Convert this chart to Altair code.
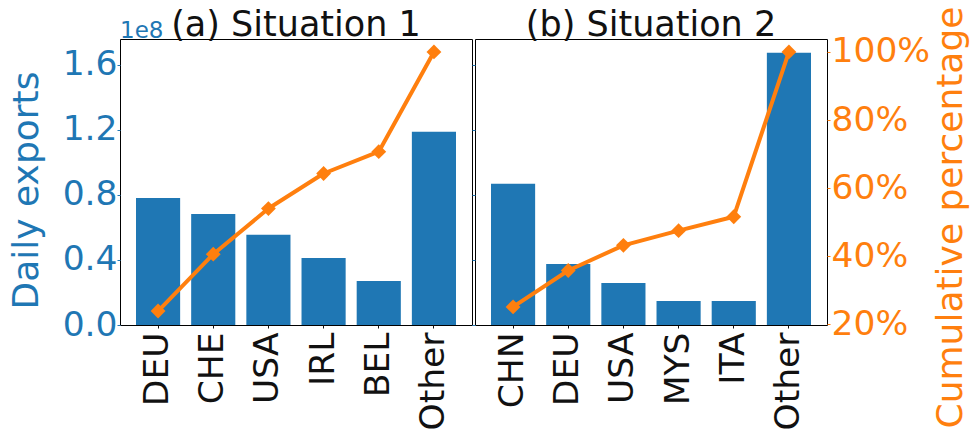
import altair as alt
import pandas as pd

BLUE = "#1f77b4"
ORANGE = "#ff7f0e"
INK = "#111111"
FONT = "DejaVu Sans"

# Situation 1
countries_a = ["DEU", "CHE", "USA", "IRL", "BEL", "Other"]
exports_a = [0.78e8, 0.683e8, 0.554e8, 0.412e8, 0.271e8, 1.188e8]
cumpct_a = [23.9, 40.6, 54.0, 64.3, 70.7, 100.0]

# Situation 2
countries_b = ["CHN", "DEU", "USA", "MYS", "ITA", "Other"]
exports_b = [0.868e8, 0.375e8, 0.258e8, 0.148e8, 0.148e8, 1.674e8]
cumpct_b = [25.1, 35.8, 43.2, 47.5, 51.6, 100.0]

export_ticks = [0, 0.4e8, 0.8e8, 1.2e8, 1.6e8]
pct_ticks = [20, 40, 60, 80, 100]
EXPORT_DOMAIN = [0, 1.758e8]
PCT_DOMAIN = [19.8, 103.8]

W, H = 352, 286


def label_layer(text, x, y, size, color, align):
    """A single free-standing text label placed in the panel's pixel space."""
    return alt.Chart(pd.DataFrame({"t": [text]})).mark_text(
        align=align, baseline="alphabetic", fontSize=size, font=FONT, color=color
    ).encode(text="t:N", x=alt.value(x), y=alt.value(y))


def panel(countries, exports, cumpct, title, first):
    df = pd.DataFrame({"country": countries, "exports": exports, "cumpct": cumpct})

    x = alt.X(
        "country:N", sort=countries, title=None,
        scale=alt.Scale(paddingInner=0.2, paddingOuter=0.29),
        axis=alt.Axis(labelAngle=-90, labelFontSize=34.5, labelColor=INK,
                      labelFont=FONT, tickSize=3, tickColor=INK,
                      labelPadding=4, domain=False),
    )

    if first:
        left_axis = alt.Axis(
            values=export_ticks, labelExpr="format(datum.value / 1e8, '.1f')",
            labelFontSize=34.5, labelColor=BLUE, labelFont=FONT,
            tickColor=BLUE, tickSize=3, labelPadding=0, domain=False, grid=False,
            title="Daily exports", titleColor=BLUE, titleFontSize=36,
            titleFont=FONT, titleFontWeight="normal", titleAngle=270,
            titleAlign="center", titleBaseline="alphabetic",
            titleX=-83, titleY=151,
        )
        right_axis = None
    else:
        left_axis = alt.Axis(
            values=export_ticks, labels=False, title=None,
            tickColor=BLUE, tickSize=3, domain=False, grid=False,
        )
        right_axis = alt.Axis(
            orient="right", values=pct_ticks, labelExpr="datum.value + '%'",
            labelFontSize=34.5, labelColor=ORANGE, labelFont=FONT,
            tickColor=ORANGE, tickSize=3, labelPadding=1, domain=False, grid=False,
            title="Cumulative percentage", titleColor=ORANGE, titleFontSize=36,
            titleFont=FONT, titleFontWeight="normal", titleAngle=270,
            titleAlign="center", titleBaseline="alphabetic",
            titleX=134, titleY=178,
        )

    base = alt.Chart(df)
    bars = base.mark_bar(color=BLUE).encode(
        x=x,
        y=alt.Y("exports:Q", scale=alt.Scale(domain=EXPORT_DOMAIN, nice=False),
                axis=left_axis),
    )
    pct_y = alt.Y("cumpct:Q", scale=alt.Scale(domain=PCT_DOMAIN, nice=False, zero=False),
                  axis=right_axis)
    line = base.mark_line(color=ORANGE, strokeWidth=4, strokeJoin="round").encode(x=x, y=pct_y)
    pts = base.mark_point(shape="diamond", filled=True, size=220, color=ORANGE,
                          opacity=1).encode(x=x, y=pct_y)

    layers = [bars, alt.layer(line, pts), label_layer(title, W / 2, -3, 35, INK, "center")]
    if first:
        layers.append(label_layer("1e8", 0, -1, 23, BLUE, "left"))

    return alt.layer(*layers).resolve_scale(y="independent").properties(width=W, height=H)


left = panel(countries_a, exports_a, cumpct_a, "(a) Situation 1", True)
right = panel(countries_b, exports_b, cumpct_b, "(b) Situation 2", False)

chart = alt.hconcat(left, right, spacing=3, bounds="flush").properties(
    padding={"left": 7, "top": 5, "right": 2, "bottom": 0},
    background="white",
).configure_view(stroke="#000000", strokeWidth=1)

chart.save("out.html", embed_options={"renderer": "svg", "actions": False})
